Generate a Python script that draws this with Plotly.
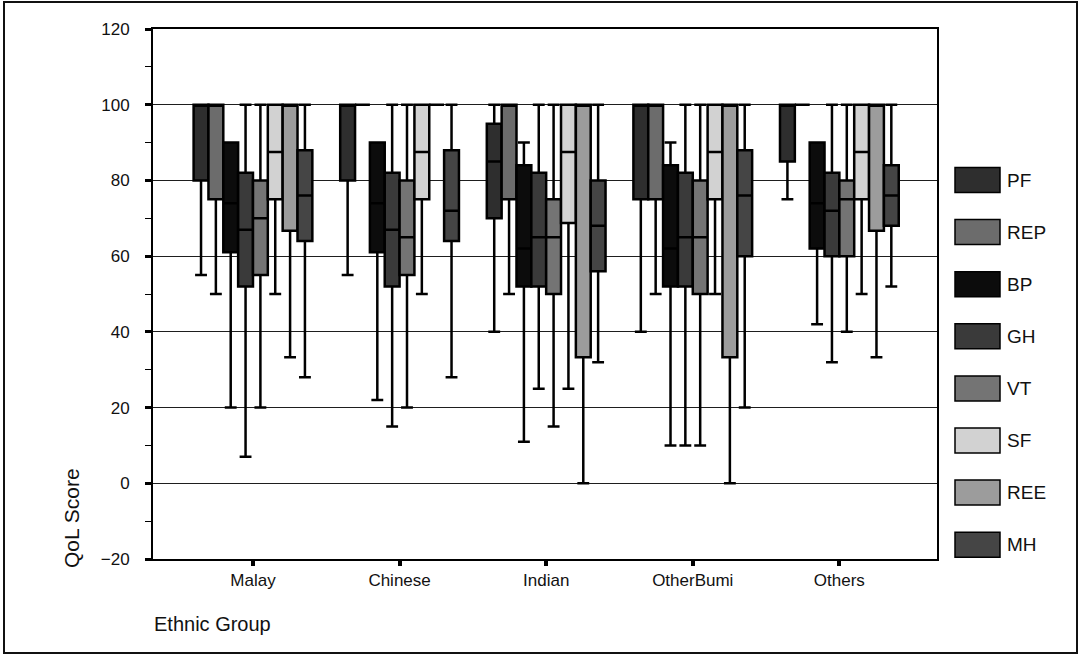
import plotly.graph_objects as go

# ---------------- data ----------------
categories = ["Malay", "Chinese", "Indian", "OtherBumi", "Others"]
series = ["PF", "REP", "BP", "GH", "VT", "SF", "REE", "MH"]

pf_lo = [55, 55, 40, 40, 75]
pf_q1 = [80, 80, 70, 75, 85]
pf_med = [100, 100, 85, 100, 100]
pf_q3 = [100, 100, 95, 100, 100]
pf_hi = [100, 100, 100, 100, 100]

rep_lo = [50, 100, 50, 50, 100]
rep_q1 = [75, 100, 75, 75, 100]
rep_med = [100, 100, 100, 100, 100]
rep_q3 = [100, 100, 100, 100, 100]
rep_hi = [100, 100, 100, 100, 100]

bp_lo = [20, 22, 11, 10, 42]
bp_q1 = [61, 61, 52, 52, 62]
bp_med = [74, 74, 62, 62, 74]
bp_q3 = [90, 90, 84, 84, 90]
bp_hi = [90, 90, 90, 90, 90]

gh_lo = [7, 15, 25, 10, 32]
gh_q1 = [52, 52, 52, 52, 60]
gh_med = [67, 67, 65, 65, 72]
gh_q3 = [82, 82, 82, 82, 82]
gh_hi = [100, 100, 100, 100, 100]

vt_lo = [20, 20, 15, 10, 40]
vt_q1 = [55, 55, 50, 50, 60]
vt_med = [70, 65, 65, 65, 75]
vt_q3 = [80, 80, 75, 80, 80]
vt_hi = [100, 100, 100, 100, 100]

sf_lo = [50, 50, 25, 50, 50]
sf_q1 = [75, 75, 68.75, 75, 75]
sf_med = [87.5, 87.5, 87.5, 87.5, 87.5]
sf_q3 = [100, 100, 100, 100, 100]
sf_hi = [100, 100, 100, 100, 100]

ree_lo = [33.3, 100, 0, 0, 33.3]
ree_q1 = [66.7, 100, 33.3, 33.3, 66.7]
ree_med = [100, 100, 100, 100, 100]
ree_q3 = [100, 100, 100, 100, 100]
ree_hi = [100, 100, 100, 100, 100]

mh_lo = [28, 28, 32, 20, 52]
mh_q1 = [64, 64, 56, 60, 68]
mh_med = [76, 72, 68, 76, 76]
mh_q3 = [88, 88, 80, 88, 84]
mh_hi = [100, 100, 100, 100, 100]

y_ticks = [-20, 0, 20, 40, 60, 80, 100, 120]

stats = {
    "PF": (pf_lo, pf_q1, pf_med, pf_q3, pf_hi),
    "REP": (rep_lo, rep_q1, rep_med, rep_q3, rep_hi),
    "BP": (bp_lo, bp_q1, bp_med, bp_q3, bp_hi),
    "GH": (gh_lo, gh_q1, gh_med, gh_q3, gh_hi),
    "VT": (vt_lo, vt_q1, vt_med, vt_q3, vt_hi),
    "SF": (sf_lo, sf_q1, sf_med, sf_q3, sf_hi),
    "REE": (ree_lo, ree_q1, ree_med, ree_q3, ree_hi),
    "MH": (mh_lo, mh_q1, mh_med, mh_q3, mh_hi),
}

colors = {
    "PF": "#2e2e2e", "REP": "#6c6c6c", "BP": "#0c0c0c", "GH": "#3a3a3a",
    "VT": "#747474", "SF": "#d2d2d2", "REE": "#9c9c9c", "MH": "#454545",
}

FONT = "Liberation Sans, Arial, sans-serif"

# ---------------- layout geometry (pixels) ----------------
W, H = 1080, 656
L, R, T, B = 153, 143, 29, 97
PW, PH = W - L - R, H - T - B


def px(x):
    return (x - L) / PW


def py(y):
    return (H - B - y) / PH


fig = go.Figure()
for name in series:
    lo, q1, med, q3, hi = stats[name]
    fig.add_trace(go.Box(
        x=categories, q1=q1, median=med, q3=q3,
        lowerfence=lo, upperfence=hi,
        name=name, fillcolor=colors[name],
        line=dict(color="#000000", width=2.5),
        whiskerwidth=0.8, showlegend=False,
    ))

shapes = []
annotations = []
# manual legend
leg_y0 = 180
leg_dy = 52.1
for i, name in enumerate(series):
    cy = leg_y0 + i * leg_dy
    shapes.append(dict(type="rect", xref="paper", yref="paper",
                       x0=px(955), x1=px(1000), y0=py(cy + 12.5), y1=py(cy - 12.5),
                       fillcolor=colors[name], line=dict(color="#000", width=1.5)))
    annotations.append(dict(xref="paper", yref="paper", x=px(1005), y=py(cy),
                            text=name, showarrow=False, xanchor="left", yanchor="middle",
                            font=dict(size=19, color="#111", family=FONT)))

# outer frame
shapes.append(dict(type="rect", xref="paper", yref="paper",
                   x0=px(4), x1=px(1077), y0=py(653), y1=py(2),
                   line=dict(color="#111", width=2), fillcolor="rgba(0,0,0,0)", layer="below"))

annotations.append(dict(xref="paper", yref="paper", x=px(71), y=py(518),
                        text="QoL Score", showarrow=False, textangle=-90,
                        xanchor="center", yanchor="middle",
                        font=dict(size=21, color="#111", family=FONT)))
annotations.append(dict(xref="paper", yref="paper", x=px(152), y=py(624),
                        text="Ethnic Group", showarrow=False,
                        xanchor="left", yanchor="middle",
                        font=dict(size=20, color="#111", family=FONT)))

fig.update_layout(
    width=W, height=H,
    margin=dict(l=L, r=R, t=T, b=B),
    paper_bgcolor="white", plot_bgcolor="white",
    boxmode="group", boxgap=0.19, boxgroupgap=0.0,
    font=dict(family=FONT, color="#111"),
    shapes=shapes, annotations=annotations,
    xaxis=dict(type="category", range=[-0.682, 4.666],
               showline=True, linecolor="#000", linewidth=2, mirror=True,
               ticks="outside", ticklen=5, tickwidth=4, tickcolor="#000",
               tickfont=dict(size=17, family=FONT, color="#111"),
               showgrid=False, zeroline=False),
    yaxis=dict(range=[-20, 120], tickvals=y_ticks,
               showline=True, linecolor="#000", linewidth=2, mirror=True,
               ticks="outside", ticklen=6, tickwidth=3, tickcolor="#000",
               ticklabelstandoff=12,
               tickfont=dict(size=17, family=FONT, color="#111"),
               showgrid=True, gridcolor="#1e1e1e", gridwidth=1,
               zeroline=True, zerolinecolor="#1e1e1e", zerolinewidth=1,
               minor=dict(dtick=10, tick0=0, ticks="outside", ticklen=6,
                          tickwidth=1, tickcolor="#000", showgrid=False)),
)

fig.write_html("out.html")
